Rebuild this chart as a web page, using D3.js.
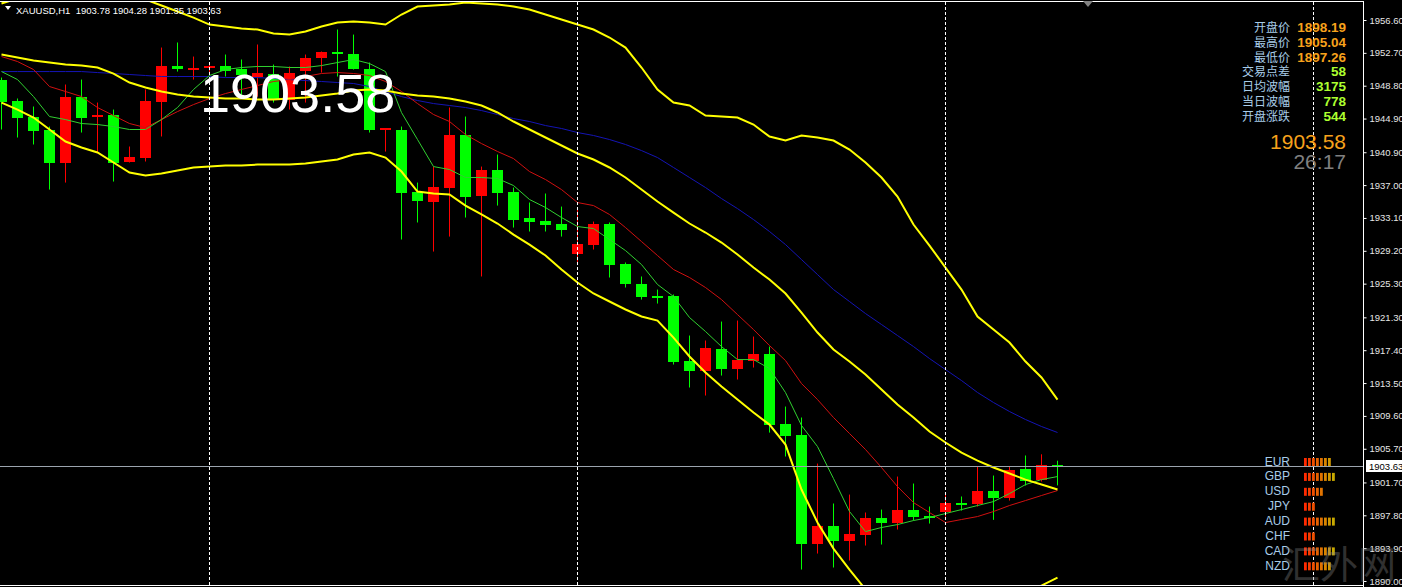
<!DOCTYPE html>
<html>
<head>
<meta charset="utf-8">
<script src="https://cdn.jsdelivr.net/npm/d3@7"></script>
<style>
  html, body { margin: 0; padding: 0; background: #000; overflow: hidden; }
</style>
</head>
<body>
<div id="chart"></div>
<script>
// ---- XAUUSD H1 bars (left to right) ----
var opens = [1949.53,1947.04,1945.14,1943.60,1939.68,1947.51,1945.14,1945.38,1939.80,1940.27,
  1946.92,1951.19,1950.84,1950.84,1951.08,1950.84,1949.89,1950.13,1947.16,1950.48,
  1952.14,1952.86,1952.62,1950.84,1943.60,1943.60,1936.24,1935.05,1936.71,1943.00,
  1935.76,1938.85,1936.24,1933.15,1932.79,1932.44,1928.88,1929.94,1932.44,1927.69,
  1925.31,1923.89,1923.89,1916.17,1914.98,1917.60,1915.22,1916.17,1917.00,1908.69,
  1907.39,1894.45,1896.58,1894.80,1895.51,1897.53,1896.94,1898.48,1897.77,1898.19,
  1899.31,1899.20,1900.74,1899.91,1903.35,1902.04,1903.78];
var highs = [1949.77,1947.28,1946.33,1943.95,1948.94,1949.53,1946.80,1945.97,1941.58,1948.35,
  1953.33,1953.93,1952.26,1951.55,1952.50,1951.91,1953.69,1951.31,1951.08,1952.50,
  1952.86,1955.47,1954.87,1951.55,1943.72,1943.95,1937.30,1939.20,1946.21,1945.14,
  1939.20,1940.63,1936.71,1934.93,1936.00,1934.45,1934.34,1932.67,1932.56,1927.81,
  1926.15,1924.60,1924.01,1919.14,1918.55,1920.80,1920.92,1919.02,1917.83,1910.71,
  1909.41,1903.94,1899.20,1900.26,1898.13,1898.48,1902.40,1901.57,1898.84,1900.38,
  1900.03,1903.59,1902.52,1903.59,1904.90,1905.04,1904.28];
var lows = [1943.60,1942.65,1941.82,1936.47,1937.30,1943.24,1940.87,1937.42,1939.68,1939.80,
  1942.77,1950.48,1949.53,1950.36,1949.89,1947.51,1947.51,1946.80,1945.97,1946.80,
  1950.36,1949.89,1950.72,1943.24,1940.98,1930.54,1932.56,1929.11,1930.89,1933.15,
  1926.15,1934.57,1931.96,1931.49,1931.49,1930.89,1927.81,1929.35,1926.03,1924.84,
  1923.41,1922.94,1915.70,1912.97,1912.02,1914.39,1913.92,1915.34,1907.62,1904.78,
  1891.36,1893.26,1891.60,1892.43,1894.21,1894.33,1896.11,1897.18,1896.82,1897.65,
  1898.36,1898.84,1897.26,1899.55,1901.33,1901.81,1901.35];
var closes = [1946.92,1945.02,1943.48,1939.68,1947.51,1945.02,1945.38,1939.68,1940.39,1947.04,
  1951.19,1950.84,1950.96,1951.08,1950.48,1950.13,1950.36,1947.16,1950.36,1952.03,
  1952.86,1952.62,1950.84,1943.60,1943.72,1936.12,1935.17,1936.83,1943.00,1935.64,
  1938.85,1936.12,1932.91,1932.67,1932.32,1931.72,1930.06,1932.44,1927.57,1925.31,
  1923.77,1923.65,1916.05,1914.98,1917.72,1915.22,1916.29,1917.00,1908.57,1907.27,
  1894.45,1896.58,1894.80,1895.63,1897.53,1896.94,1898.48,1897.65,1897.53,1899.31,
  1899.08,1900.74,1899.91,1903.23,1901.93,1903.78,1903.63];

// ---- indicators ----
var bandUpper = [1958.56,1959.15,1959.39,1959.74,1960.45,1960.93,1961.05,1960.81,1959.86,1959.03,
  1958.32,1957.61,1956.89,1956.06,1955.82,1955.59,1955.47,1954.99,1954.88,1955.23,
  1955.82,1956.30,1956.42,1956.30,1956.06,1957.25,1958.20,1958.32,1958.44,1958.67,
  1958.56,1958.44,1958.20,1957.84,1957.25,1956.66,1956.06,1955.47,1954.52,1953.33,
  1950.96,1948.35,1946.80,1946.45,1945.26,1945.14,1945.02,1944.19,1942.77,1942.29,
  1942.88,1942.65,1942.29,1941.22,1939.68,1937.90,1935.64,1932.32,1929.82,1927.21,
  1924.60,1921.40,1919.85,1918.31,1916.05,1914.16,1911.54];
var bandMiddle = [1952.50,1952.14,1951.79,1951.55,1951.31,1951.19,1950.96,1950.24,1949.18,1948.58,
  1948.11,1947.75,1947.51,1947.40,1947.28,1947.28,1947.16,1947.16,1947.28,1947.40,
  1947.63,1947.87,1948.23,1948.35,1948.23,1947.87,1947.63,1947.51,1947.28,1946.92,
  1946.45,1945.62,1944.55,1943.60,1942.65,1941.70,1940.75,1940.04,1939.09,1937.90,
  1936.47,1935.05,1933.74,1932.44,1931.37,1930.18,1928.76,1927.21,1925.79,1924.13,
  1921.87,1919.50,1917.48,1916.05,1914.51,1912.73,1910.95,1909.41,1907.74,1906.44,
  1905.25,1904.30,1903.47,1902.76,1902.04,1901.45,1900.86];
var bandLower = [1946.80,1945.97,1945.02,1943.60,1942.17,1941.46,1940.87,1939.68,1938.49,1938.14,
  1938.37,1938.73,1939.09,1939.20,1939.32,1939.32,1939.44,1939.44,1939.44,1939.56,
  1939.80,1940.04,1940.63,1940.87,1940.27,1938.61,1936.24,1936.00,1935.88,1934.57,
  1933.51,1932.44,1931.13,1929.94,1928.64,1926.98,1925.43,1924.13,1923.18,1922.23,
  1921.40,1920.92,1918.90,1916.65,1914.75,1913.09,1911.54,1910.00,1908.57,1906.20,
  1900.86,1896.94,1893.85,1891.36,1889.00,1887.56,1886.26,1886.49,1885.66,1885.66,
  1885.90,1887.20,1887.09,1887.20,1888.27,1889.46,1890.41];
var maBlue = [1950.48,1950.48,1950.48,1950.48,1950.48,1950.48,1950.36,1950.25,1950.13,1950.01,
  1949.89,1949.89,1949.89,1949.89,1949.77,1949.77,1949.77,1949.65,1949.53,1949.41,
  1949.30,1949.18,1949.06,1948.70,1948.11,1947.51,1947.04,1946.68,1946.45,1946.21,
  1945.85,1945.38,1944.90,1944.55,1944.07,1943.72,1943.24,1942.89,1942.41,1941.82,
  1941.10,1940.27,1939.09,1937.90,1936.71,1935.40,1934.21,1932.91,1931.49,1929.94,
  1928.16,1926.38,1924.60,1923.18,1921.75,1920.45,1919.14,1917.83,1916.41,1915.10,
  1913.80,1912.38,1911.19,1910.12,1909.17,1908.34,1907.63];
var maRed = [1952.26,1951.67,1950.72,1948.70,1948.11,1947.51,1946.21,1945.26,1944.31,1943.83,
  1944.78,1945.73,1946.56,1947.28,1947.87,1948.35,1948.82,1949.30,1949.53,1949.89,
  1950.25,1950.36,1950.25,1950.01,1949.30,1948.11,1946.68,1945.38,1944.55,1943.00,
  1941.93,1940.99,1940.15,1938.61,1937.66,1936.47,1934.93,1934.57,1933.51,1931.96,
  1930.30,1928.64,1926.98,1926.03,1924.84,1923.41,1921.63,1919.85,1917.95,1916.17,
  1913.44,1911.54,1909.41,1907.51,1905.61,1903.47,1901.21,1899.31,1898.13,1896.94,
  1897.30,1897.65,1898.25,1898.96,1899.55,1900.15,1900.74];
var maGreen = [1950.48,1949.53,1947.51,1945.14,1944.78,1944.31,1944.19,1943.95,1943.60,1943.60,
  1944.78,1946.21,1948.35,1950.01,1950.72,1950.96,1951.08,1951.08,1950.96,1950.96,
  1951.19,1951.55,1951.91,1951.43,1950.48,1945.61,1942.41,1939.20,1938.85,1937.90,
  1937.90,1937.78,1936.95,1935.29,1934.34,1933.15,1932.08,1931.84,1930.54,1929.23,
  1927.57,1925.20,1923.77,1921.28,1919.62,1917.83,1916.29,1916.29,1915.22,1912.37,
  1908.46,1905.96,1902.16,1898.25,1895.87,1896.35,1896.70,1897.18,1897.53,1898.01,
  1898.48,1898.96,1899.43,1900.38,1901.45,1902.04,1902.40];

// day separators (bar index), price axis ticks
var separators = [13, 36, 59, 82];
var priceTicks = [1956.60,1952.70,1948.80,1944.90,1940.90,1937.00,1933.10,1929.20,1925.30,
  1921.30,1917.40,1913.50,1909.60,1905.70,1901.70,1897.80,1893.90,1890.00];
var lastPrice = 1903.63;
var headerText = "XAUUSD,H1  1903.78 1904.28 1901.35 1903.63";
var bigPrice = "1903.58";

// info panel
var infoLabels = ["开盘价","最高价","最低价","交易点差","日均波幅","当日波幅","开盘涨跌"];
var infoValues = ["1898.19","1905.04","1897.26","58","3175","778","544"];
var infoBid = "1903.58";
var infoTimer = "26:17";

// currency strength panel
var currencies = ["EUR","GBP","USD","JPY","AUD","CHF","CAD","NZD"];
var strength = [7, 8, 5, 3, 8, 3, 8, 7];

var W = 1402, H = 587;
var plotRight = 1363, plotTop = 2, plotBottom = 585;
var font = "'Liberation Sans', Arial, sans-serif";

var svg = d3.select("#chart").append("svg")
    .attr("width", W)
    .attr("height", H)
    .style("display", "block")
    .style("background", "#000");

// scales: 16px per bar
var x = d3.scaleLinear().domain([0, 1]).range([1, 17]);
var y = d3.scaleLinear().domain([1890.00, 1956.60]).range([581, 20]);

svg.append("clipPath").attr("id", "plotClip")
  .append("rect")
    .attr("x", 0).attr("y", plotTop)
    .attr("width", plotRight).attr("height", plotBottom - plotTop);

var plot = svg.append("g").attr("clip-path", "url(#plotClip)");

// candles
var idx = d3.range(opens.length);
var candle = plot.append("g").selectAll("g")
  .data(idx)
  .enter().append("g");

candle.append("line")
  .attr("x1", function(i) { return Math.round(x(i)) + 0.5; })
  .attr("x2", function(i) { return Math.round(x(i)) + 0.5; })
  .attr("y1", function(i) { return y(highs[i]); })
  .attr("y2", function(i) { return y(lows[i]); })
  .attr("stroke", function(i) { return closes[i] >= opens[i] ? "#ff0000" : "#00ff00"; })
  .attr("stroke-width", 1);

candle.append("rect")
  .attr("x", function(i) { return Math.round(x(i)) - 5; })
  .attr("width", 11)
  .attr("y", function(i) { return Math.round(Math.min(y(opens[i]), y(closes[i]))); })
  .attr("height", function(i) { return Math.max(2, Math.round(Math.abs(y(opens[i]) - y(closes[i])))); })
  .attr("fill", function(i) { return closes[i] >= opens[i] ? "#ff0000" : "#00ff00"; });

// indicator lines
var line = d3.line()
  .x(function(d, i) { return Math.round(x(i)) + 0.5; })
  .y(function(d) { return y(d); });

[[maBlue, "#1414b4", 1], [maRed, "#d01010", 1], [maGreen, "#30d030", 1],
 [bandUpper, "#ffff00", 2], [bandMiddle, "#ffff00", 2], [bandLower, "#ffff00", 2]]
  .forEach(function(s) {
    plot.append("path")
      .datum(s[0])
      .attr("d", line)
      .attr("fill", "none")
      .attr("stroke", s[1])
      .attr("stroke-width", s[2]);
  });

// day separators
svg.selectAll("line.sep")
  .data(separators)
  .enter().append("line")
    .attr("class", "sep")
    .attr("x1", function(d) { return Math.round(x(d)) + 0.5; })
    .attr("x2", function(d) { return Math.round(x(d)) + 0.5; })
    .attr("y1", plotTop)
    .attr("y2", plotBottom)
    .attr("stroke", "#ffffff")
    .attr("stroke-dasharray", "3,2");

// last price line
var yLast = Math.round(y(lastPrice)) + 0.5;
svg.append("line")
  .attr("x1", 0).attr("x2", plotRight)
  .attr("y1", yLast).attr("y2", yLast)
  .attr("stroke", "#9ba4ae");

// frame
svg.append("line").attr("x1", 0).attr("x2", plotRight).attr("y1", 1.5).attr("y2", 1.5).attr("stroke", "#fff");
svg.append("line").attr("x1", 0).attr("x2", plotRight).attr("y1", plotBottom + 0.5).attr("y2", plotBottom + 0.5).attr("stroke", "#fff");
svg.append("line").attr("x1", plotRight + 0.5).attr("x2", plotRight + 0.5).attr("y1", 1).attr("y2", H).attr("stroke", "#fff");

// price axis
var axis = svg.append("g")
  .attr("transform", "translate(" + (plotRight + 0.5) + ",0)")
  .call(d3.axisRight(y).tickValues(priceTicks).tickSize(3).tickPadding(3).tickFormat(d3.format(".2f")));
axis.select(".domain").remove();
axis.selectAll(".tick line").attr("stroke", "#fff");
axis.selectAll(".tick text")
  .attr("fill", "#e6e6e6")
  .style("font", "9.5px " + font);

// last price box
svg.append("rect")
  .attr("x", plotRight + 3).attr("y", yLast - 6.5)
  .attr("width", W - plotRight - 3).attr("height", 12)
  .attr("fill", "#fff");
svg.append("text")
  .attr("x", plotRight + 6).attr("y", yLast + 3.5)
  .attr("fill", "#000")
  .style("font", "9.5px " + font)
  .text(d3.format(".2f")(lastPrice));

// header
svg.append("path")
  .attr("d", "M5,6 L11,6 L8,10 Z")
  .attr("fill", "#fff");
svg.append("text")
  .attr("x", 16).attr("y", 14)
  .attr("fill", "#fff")
  .style("font", "9.5px " + font)
  .style("white-space", "pre")
  .attr("xml:space", "preserve")
  .text(headerText);

// chart shift marker
svg.append("path")
  .attr("d", "M1083,1 L1093,1 L1088,7 Z")
  .attr("fill", "#808080");

// big bid price
svg.append("text")
  .attr("x", 200).attr("y", 112)
  .attr("fill", "#fff")
  .style("font", "54px " + font)
  .text(bigPrice);

// info panel
var info = svg.append("g");
info.selectAll("text.lbl")
  .data(infoLabels)
  .enter().append("text")
    .attr("class", "lbl")
    .attr("x", 1290)
    .attr("y", function(d, i) { return 32 + i * 14.8; })
    .attr("text-anchor", "end")
    .attr("fill", "#a8cce8")
    .style("font", "12px 'Noto Sans CJK SC', sans-serif")
    .text(function(d) { return d; });
info.selectAll("text.val")
  .data(infoValues)
  .enter().append("text")
    .attr("class", "val")
    .attr("x", 1346)
    .attr("y", function(d, i) { return 32 + i * 14.8; })
    .attr("text-anchor", "end")
    .attr("fill", function(d, i) { return i < 3 ? "#f7a21c" : "#adff2f"; })
    .style("font", "bold 13.5px " + font)
    .text(function(d) { return d; });
info.append("text")
  .attr("x", 1346).attr("y", 149)
  .attr("text-anchor", "end")
  .attr("fill", "#f7a21c")
  .style("font", "21px " + font)
  .text(infoBid);
info.append("text")
  .attr("x", 1346).attr("y", 169)
  .attr("text-anchor", "end")
  .attr("fill", "#808080")
  .style("font", "21px " + font)
  .text(infoTimer);

// currency strength panel
var segColor = d3.interpolateRgb("#ff2a00", "#c8aa00");
var cur = svg.append("g").selectAll("g")
  .data(currencies)
  .enter().append("g")
    .attr("transform", function(d, i) { return "translate(0," + (461 + i * 14.9) + ")"; });
cur.append("text")
  .attr("x", 1290).attr("y", 4.5)
  .attr("text-anchor", "end")
  .attr("fill", "#a8cce8")
  .style("font", "12px " + font)
  .text(function(d) { return d; });
cur.selectAll("rect")
  .data(function(d, i) { return d3.range(strength[i]); })
  .enter().append("rect")
    .attr("x", function(k) { return 1304 + k * 4; })
    .attr("y", -3)
    .attr("width", 2.8)
    .attr("height", 8)
    .attr("fill", function(k) { return segColor(k / 7); });

// watermark
svg.append("text")
  .attr("x", 1282).attr("y", 578)
  .attr("fill", "#8a8a8a")
  .attr("opacity", 0.35)
  .style("font", "38px 'Noto Sans CJK SC', sans-serif")
  .text("汇外网");
</script>
</body>
</html>
